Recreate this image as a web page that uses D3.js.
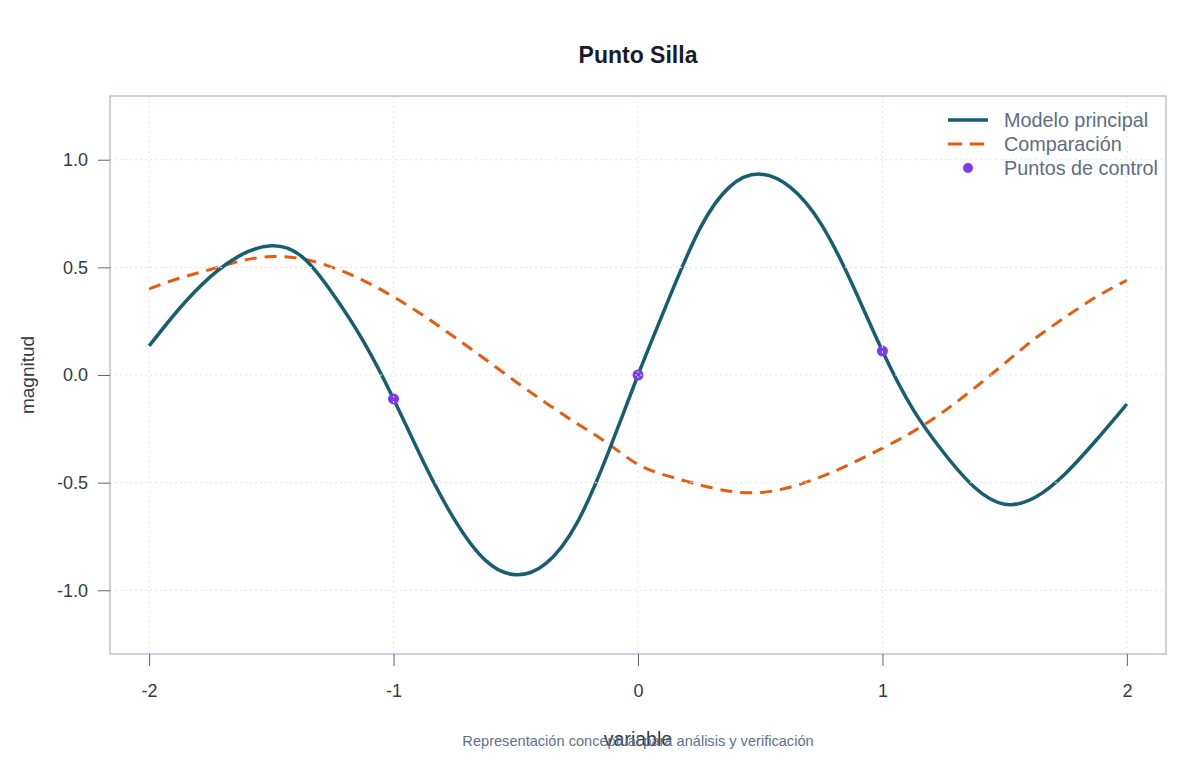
<!DOCTYPE html>
<html>
<head>
<meta charset="utf-8">
<script src="https://cdn.jsdelivr.net/npm/d3@7"></script>
<style>
  body { margin: 0; background: #fff; }
  text { font-family: "Liberation Sans", Arial, sans-serif; }
</style>
</head>
<body>
<svg id="chart"></svg>
<script>
// Values (step 0.125 along x)
const xValues = d3.range(33).map(i => -2 + i * 0.125);
const mainValues = [0.135, 0.31, 0.456, 0.557, 0.60, 0.55, 0.38, 0.16, -0.111, -0.41, -0.673, -0.86, -0.928, -0.874, -0.688, -0.37,
  0, 0.35, 0.673, 0.874, 0.933, 0.87, 0.70, 0.425, 0.111, -0.16, -0.36, -0.52, -0.60, -0.568, -0.456, -0.302, -0.135];
const compValues = [0.40, 0.45, 0.49, 0.53, 0.55, 0.54, 0.50, 0.44, 0.363, 0.274, 0.175, 0.073, -0.031, -0.131, -0.225, -0.317,
  -0.415, -0.47, -0.51, -0.54, -0.546, -0.52, -0.472, -0.41, -0.34, -0.263, -0.17, -0.062, 0.054, 0.17, 0.27, 0.363, 0.44];
const controlX = [-1, 0, 1];
const controlY = [-0.111, 0, 0.111];
const xTicks = [-2, -1, 0, 1, 2];
const yTicks = [-1, -0.5, 0, 0.5, 1];
const legendLabels = ["Modelo principal", "Comparación", "Puntos de control"];

const width = 1200, height = 760;
const plot = { left: 110, right: 1166, top: 96, bottom: 654 };
const colMain = "#175e73", colComp = "#ea5a0c", colPts = "#7c3aed";

const svg = d3.select("#chart").attr("width", width).attr("height", height);

// R style axis limits: data range extended by 4%
const x = d3.scaleLinear().domain([-2.16, 2.16]).range([plot.left, plot.right]);
const y = d3.scaleLinear().domain([-1.296, 1.296]).range([plot.bottom, plot.top]);

const mainData = xValues.map((v, i) => [v, mainValues[i]]);
const compData = xValues.map((v, i) => [v, compValues[i]]);

const line = d3.line().x(d => x(d[0])).y(d => y(d[1])).curve(d3.curveNatural);

svg.append("path")
  .datum(compData)
  .attr("d", line)
  .style("fill", "none")
  .style("stroke", colComp)
  .style("stroke-width", 3)
  .style("stroke-dasharray", "12,8");

svg.append("path")
  .datum(mainData)
  .attr("d", line)
  .style("fill", "none")
  .style("stroke", colMain)
  .style("stroke-width", 3.5)
  .style("stroke-linejoin", "round");

svg.append("g").selectAll("circle")
  .data(controlX)
  .enter().append("circle")
  .attr("cx", d => x(d))
  .attr("cy", (d, i) => y(controlY[i]))
  .attr("r", 5.5)
  .style("fill", colPts);

// grid drawn on top, like the reference
const grid = svg.append("g").style("stroke", "#dfe5ee").style("stroke-width", 1).style("stroke-dasharray", "2,3");
grid.selectAll(".vg").data(xTicks).enter().append("line")
  .attr("x1", d => x(d)).attr("x2", d => x(d))
  .attr("y1", plot.top).attr("y2", plot.bottom);
grid.selectAll(".hg").data(yTicks).enter().append("line")
  .attr("y1", d => y(d)).attr("y2", d => y(d))
  .attr("x1", plot.left).attr("x2", plot.right);

// box
svg.append("rect")
  .attr("x", plot.left).attr("y", plot.top)
  .attr("width", plot.right - plot.left).attr("height", plot.bottom - plot.top)
  .style("fill", "none").style("stroke", "#b9c4d3").style("stroke-width", 1.5);

// axes
const xAxis = svg.append("g")
  .attr("transform", `translate(0,${plot.bottom})`)
  .call(d3.axisBottom(x).tickValues(xTicks).tickSize(12).tickPadding(18));
const yAxis = svg.append("g")
  .attr("transform", `translate(${plot.left},0)`)
  .call(d3.axisLeft(y).tickValues(yTicks).tickSize(12).tickPadding(10));
[xAxis, yAxis].forEach(a => {
  a.select(".domain").remove();
  a.selectAll(".tick line").style("stroke", "#5b6675");
  a.selectAll(".tick text").style("font-size", "18px").style("fill", "#333b47")
    .style("font-family", '"Liberation Sans", Arial, sans-serif');
});
yAxis.selectAll(".tick text").text(d => d3.format(".1f")(d).replace("−", "-"));
xAxis.selectAll(".tick text").text(d => String(d));

// title and labels
svg.append("text").attr("x", 638).attr("y", 63).attr("text-anchor", "middle")
  .style("font-size", "23px").style("font-weight", "bold").style("fill", "#161c2e")
  .text("Punto Silla");

svg.append("text").attr("x", 638).attr("y", 746).attr("text-anchor", "middle")
  .style("font-size", "19.5px").style("fill", "#333b47").text("variable");

svg.append("text").attr("transform", "translate(34,375) rotate(-90)").attr("text-anchor", "middle")
  .style("font-size", "19px").style("fill", "#333b47").text("magnitud");

svg.append("text").attr("x", 638).attr("y", 746).attr("text-anchor", "middle")
  .style("font-size", "14.6px").style("fill", "#5d7292")
  .text("Representación conceptual para análisis y verificación");

// legend
const legend = svg.append("g");
const rows = [120, 144, 168];
legend.append("line").attr("x1", 948).attr("x2", 988).attr("y1", rows[0]).attr("y2", rows[0])
  .style("stroke", colMain).style("stroke-width", 3.5);
legend.append("line").attr("x1", 948).attr("x2", 988).attr("y1", rows[1]).attr("y2", rows[1])
  .style("stroke", colComp).style("stroke-width", 3).style("stroke-dasharray", "14,8");
legend.append("circle").attr("cx", 968).attr("cy", rows[2]).attr("r", 5).style("fill", colPts);
legend.selectAll("text").data(legendLabels).enter().append("text")
  .attr("x", 1004).attr("y", (d, i) => rows[i] + 7)
  .style("font-size", "19.8px").style("fill", "#5e6d82")
  .text(d => d);
</script>
</body>
</html>
